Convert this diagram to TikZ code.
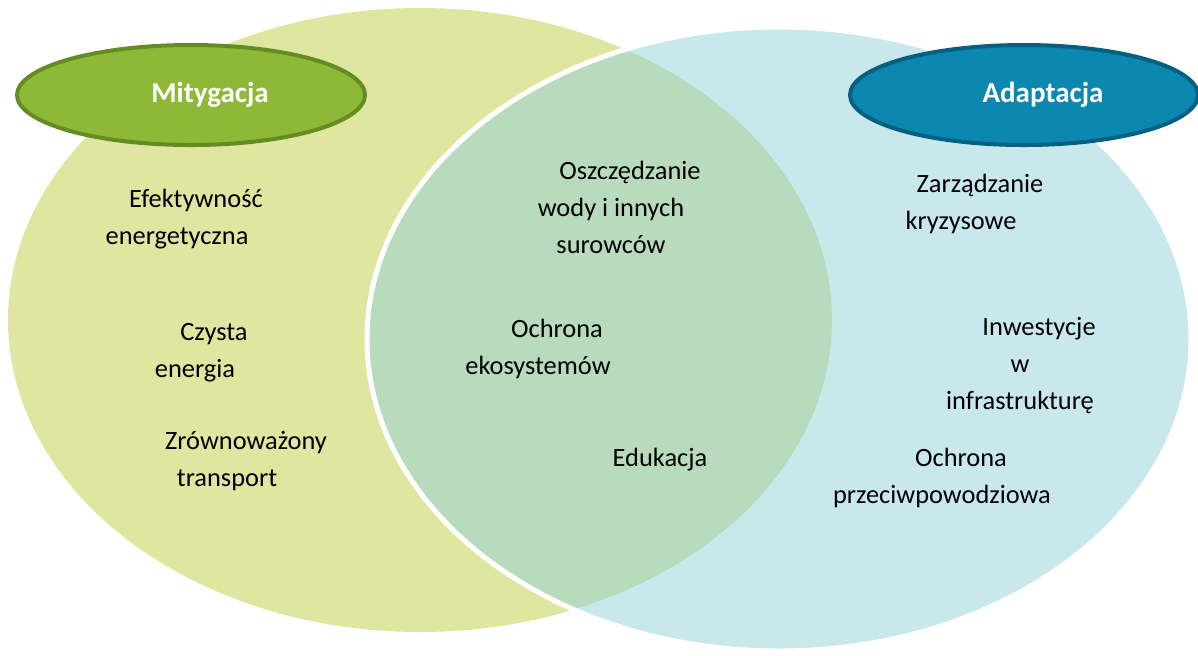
\documentclass[tikz,border=0pt]{standalone}
\usepackage{fontspec}
\setmainfont{Carlito}
\usetikzlibrary{shapes.geometric}

\definecolor{mitlight}{RGB}{222,230,159}
\definecolor{mitgreen}{RGB}{141,185,55}
\definecolor{mitdark}{RGB}{100,140,35}
\definecolor{adaptlight}{RGB}{145,209,217}
\definecolor{adaptblue}{RGB}{11,135,176}
\definecolor{adaptdark}{RGB}{3,96,128}

\newcommand{\firstind}{\hspace*{19pt}}

\begin{document}
\begin{tikzpicture}[
    x=0.5pt, y=-0.5pt,
    bigset/.style={ellipse, minimum width=412pt, minimum height=312pt, inner sep=0pt},
    head/.style={ellipse, line width=2pt, minimum width=174pt, minimum height=50pt, inner sep=0pt, text=white, font=\fontsize{14.5}{17}\selectfont\bfseries},
    item/.style={align=center, inner sep=0pt, font=\fontsize{13.2}{18.5}\selectfont}
]
\useasboundingbox (0,0) rectangle (1198,655);

% Sets
\node (mitig) [bigset, fill=mitlight] at (420,320) {};
\node (adapt) [bigset, fill=adaptlight, fill opacity=0.5, draw=white, line width=2.5pt] at (779,339) {};

% Headers
\node (mithead) [head, fill=mitgreen, draw=mitdark] at (191,95) {\firstind Mitygacja};
\node (adahead) [head, fill=adaptblue, draw=adaptdark] at (1024,95) {\firstind Adaptacja};

% Mitigation
\node (effic) [item] at (177,219) {\firstind Efektywność\\energetyczna};
\node (clean) [item] at (195,353) {\firstind Czysta\\energia};
\node (trans) [item] at (227,461) {\firstind Zrównoważony\\transport};

% Both
\node (water) [item] at (611,207) {\firstind Oszczędzanie\\wody i innych\\surowców};
\node (ecosys) [item] at (538,349) {\firstind Ochrona\\ekosystemów};
\node (educ) [item] at (660,460) {Edukacja};

% Adaptation
\node (crisis) [item] at (961,204) {\firstind Zarządzanie\\kryzysowe};
\node (infra) [item] at (1020,366) {\firstind Inwestycje\\w\\infrastrukturę};
\node (flood) [item] at (942,478) {\firstind Ochrona\\przeciwpowodziowa};

\end{tikzpicture}
\end{document}
